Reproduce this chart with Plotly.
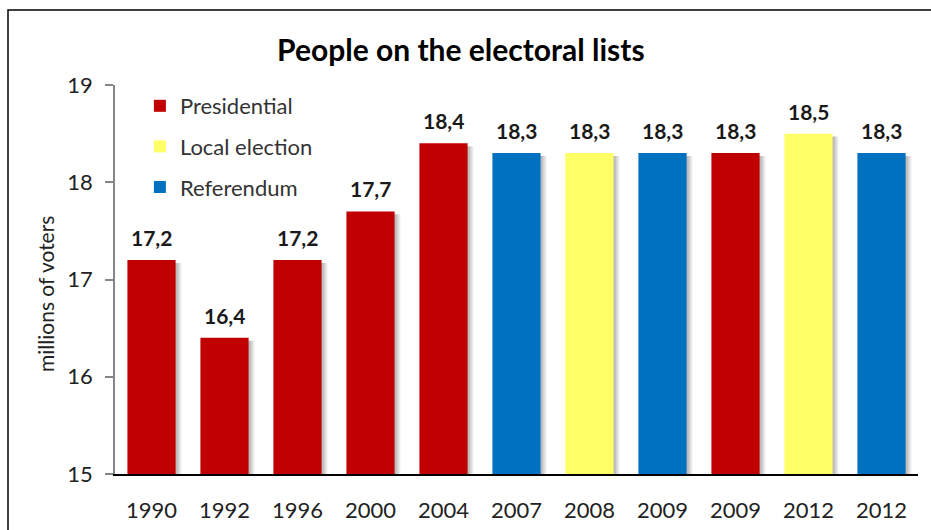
import plotly.graph_objects as go

# Election years (repeated years are separate ballots)
years = ["1990", "1992", "1996", "2000", "2004", "2007", "2008", "2009", "2009", "2012", "2012"]
voters = [17.2, 16.4, 17.2, 17.7, 18.4, 18.3, 18.3, 18.3, 18.3, 18.5, 18.3]
kinds = ["Presidential", "Presidential", "Presidential", "Presidential", "Presidential",
         "Referendum", "Local election", "Referendum", "Presidential", "Local election", "Referendum"]

series = ["Presidential", "Local election", "Referendum"]
colors = {"Presidential": "#C00000", "Local election": "#FFFF66", "Referendum": "#0070C0"}

FONT = "Lato"
pos = list(range(len(years)))
BAR_W = 0.66

fig = go.Figure()

# soft drop shadow to the right of each bar
for dx, op in [(0.03, 0.10), (0.055, 0.10), (0.08, 0.08)]:
    fig.add_trace(go.Bar(
        x=pos, y=[v - 0.03 for v in voters], width=BAR_W, offset=-BAR_W / 2 + dx,
        marker=dict(color=f"rgba(0,0,0,{op})", line=dict(width=0)),
        showlegend=False, hoverinfo="skip",
    ))

for s in series:
    fig.add_trace(go.Bar(
        x=pos,
        y=[v if k == s else None for v, k in zip(voters, kinds)],
        width=BAR_W, offset=-BAR_W / 2,
        name=s, legendgroup=s,
        marker=dict(color=colors[s], line=dict(width=0)),
    ))

# value labels above the bars
for p, v in zip(pos, voters):
    fig.add_annotation(
        x=p, y=v, text=f"<b>{v:.1f}</b>".replace(".", ","),
        showarrow=False, yanchor="bottom", yshift=8,
        font=dict(family=FONT, size=21, color="#1a1a1a"),
    )

W, H = 931, 530
L, R, T, B = 115, 13, 85, 56
pw, ph = W - L - R, H - T - B

# vertical axis title
fig.add_annotation(
    xref="paper", yref="paper", x=(45 - L) / pw, y=1 - (294 - T) / ph,
    text="millions of voters", textangle=-90, showarrow=False,
    xanchor="center", yanchor="middle",
    font=dict(family=FONT, size=21, color="#222222"),
)

# outer frame of the chart area
fig.add_shape(
    type="rect", xref="paper", yref="paper",
    x0=(8 - L) / pw, x1=1.1, y0=-0.3, y1=1 + (T - 10) / ph,
    line=dict(color="#000000", width=1.5), fillcolor="rgba(0,0,0,0)", layer="below",
)

fig.update_layout(
    width=W, height=H,
    margin=dict(l=L, r=R, t=T, b=B),
    paper_bgcolor="white", plot_bgcolor="white",
    barmode="overlay",
    font=dict(family=FONT, color="#222222"),
    title=dict(
        text="<b>People on the electoral lists</b>",
        x=0.495, xanchor="center", y=1 - 50 / H, yanchor="middle",
        font=dict(family=FONT, size=30, color="#000000"),
    ),
    xaxis=dict(
        tickmode="array", tickvals=pos, ticktext=years,
        range=[-0.5, len(years) - 0.5],
        automargin=False,
        showgrid=False, zeroline=False,
        showline=True, linecolor="#000000", linewidth=1.5,
        ticks="", ticklabelstandoff=16,
        tickfont=dict(family=FONT, size=22, color="#222222"),
    ),
    yaxis=dict(
        range=[15, 19], dtick=1, tick0=15,
        automargin=False,
        showgrid=False, zeroline=False,
        showline=True, linecolor="#868686", linewidth=1.5,
        ticks="outside", ticklen=8, tickcolor="#868686", tickwidth=1.5,
        ticklabelstandoff=8,
        tickfont=dict(family=FONT, size=22, color="#222222"),
    ),
    legend=dict(
        x=0.031, y=1.0, xanchor="left", yanchor="top",
        traceorder="grouped", tracegroupgap=9,
        bgcolor="rgba(0,0,0,0)",
        font=dict(family=FONT, size=22, color="#333333"),
    ),
    showlegend=True,
)

fig.write_html("out.html")
